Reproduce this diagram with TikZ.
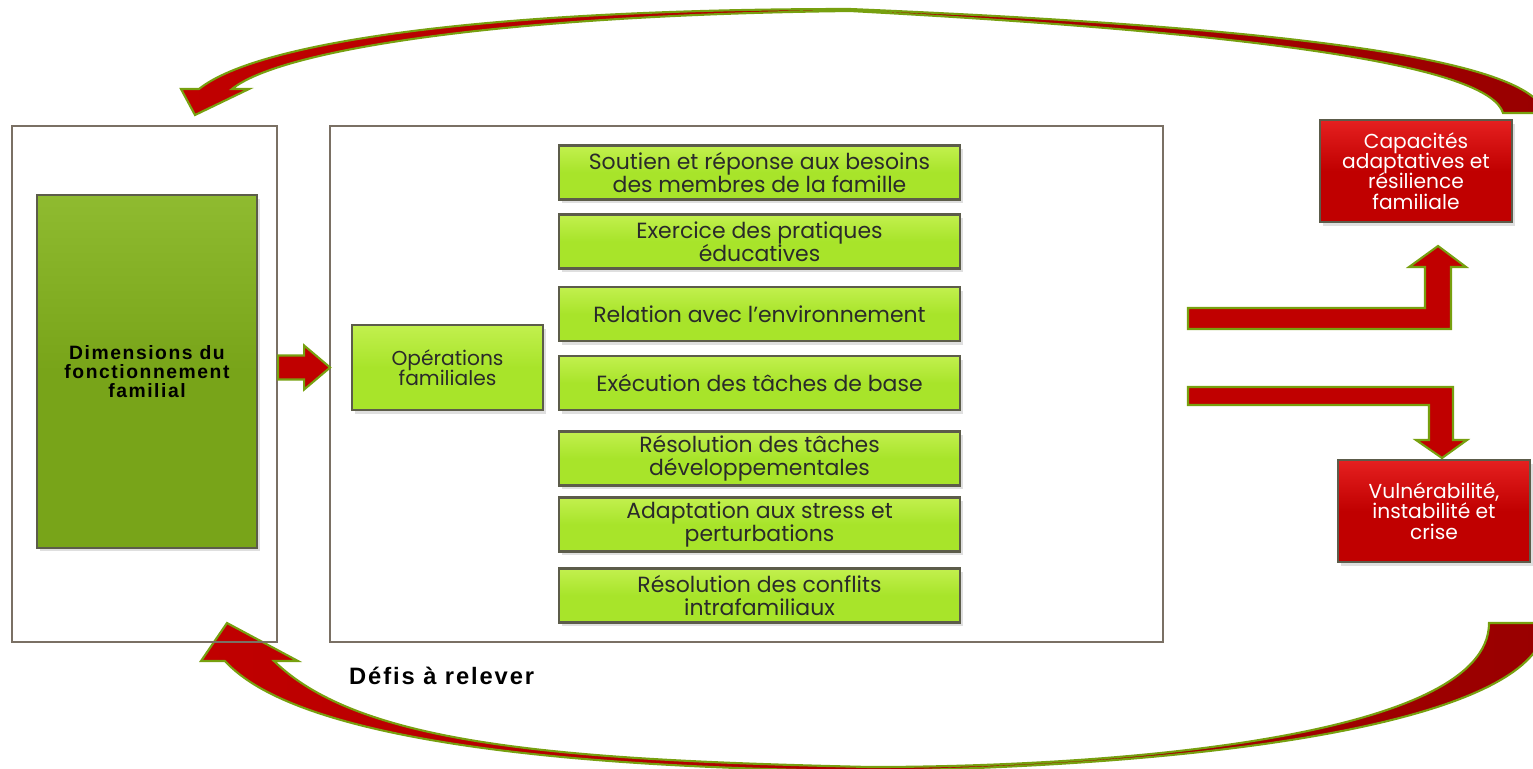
\documentclass[tikz,border=0pt]{standalone}
\usepackage{fontspec}
\setmainfont{Poppins}
\newfontfamily\headfont[LetterSpace=8]{Liberation Sans}
\usetikzlibrary{positioning,shadows}
\newcommand\tightlines{\lineskiplimit -20pt\relax}

\definecolor{framegray}{HTML}{7A7064}
\definecolor{limemain}{HTML}{A8E42A}
\definecolor{limetop}{HTML}{C2F04E}
\definecolor{olivemain}{HTML}{78A419}
\definecolor{olivetop}{HTML}{8FBB30}
\definecolor{boxedge}{HTML}{5C5C4A}
\definecolor{redmain}{HTML}{C00000}
\definecolor{redtop}{HTML}{E52020}
\definecolor{reddark}{HTML}{990000}
\definecolor{arrowedge}{HTML}{77A00F}
\definecolor{inktext}{HTML}{2A2A2A}

\tikzset{
      framebox/.style={
        draw=framegray,
        line width=1.3pt,
        minimum height=10.32cm,
        inner sep=0pt
      },
      opbox/.style={
        draw=boxedge,
        line width=1.4pt,
        top color=limetop,
        bottom color=limemain,
        middle color=limemain,
        minimum width=8.02cm,
        minimum height=1.08cm,
        inner sep=0pt,
        align=center,
        text=inktext,
        font={\fontsize{12.5}{12.8}\selectfont\tightlines},
        drop shadow={shadow xshift=1.5pt, shadow yshift=-2pt, opacity=0.25}
      },
      dimbox/.style={
        draw=boxedge,
        line width=1.4pt,
        top color=olivetop,
        bottom color=olivemain,
        middle color=olivemain,
        minimum width=4.4cm,
        minimum height=7.06cm,
        inner sep=0pt,
        align=center,
        font={\headfont\bfseries\fontsize{11}{11}\selectfont},
        drop shadow={shadow xshift=1.5pt, shadow yshift=-2pt, opacity=0.25}
      },
      outcomebox/.style={
        draw=boxedge,
        line width=1.4pt,
        top color=redtop,
        bottom color=redmain,
        middle color=redmain,
        minimum width=3.84cm,
        minimum height=2.04cm,
        inner sep=0pt,
        align=center,
        text=white,
        font={\fontsize{11.5}{11.5}\selectfont\tightlines},
        drop shadow={shadow xshift=1.5pt, shadow yshift=-2pt, opacity=0.25}
      },
      blockarrow/.style={
        draw=arrowedge,
        line width=1.2pt,
        fill=redmain,
        line join=miter
      },
      curvearrow/.style={
        draw=arrowedge,
        line width=1.2pt,
        left color=redmain,
        right color=reddark,
        line join=miter
      }
    }

\begin{document}
\begin{tikzpicture}[x=0.02cm,y=-0.02cm]
    \useasboundingbox (0,0) rectangle (1533,768);
    % return loops
    \draw[curvearrow] (1503,113) .. controls (1490,70) and (1300,35) .. (850,11)
      .. controls (500,15) and (280,50) .. (232,89)
      -- (249,89) -- (195,115) -- (181,89) -- (199,89)
      .. controls (260,40) and (500,9) .. (850,9)
      .. controls (1300,28) and (1530,60) .. (1545,113) -- cycle;
    \draw[curvearrow] (1489,623) .. controls (1489,740) and (1100,767) .. (870,767)
      .. controls (560,760) and (360,745) .. (274,661)
      -- (298,661) -- (227,623) -- (201,661) -- (225,661)
      .. controls (295,738) and (550,768) .. (870,771)
      .. controls (1280,764) and (1545,710) .. (1545,623) -- cycle;

    \node[framebox, minimum width=5.3cm] (leftframe) at (144.5,384) {};
    \node[framebox, minimum width=16.66cm] (midframe) at (746.5,384) {};

    \node[dimbox] (dims) at (147,371.5) {Dimensions du\\fonctionnement\\familial};
    \node[opbox, minimum width=3.82cm, minimum height=1.7cm, font={\fontsize{11.5}{11.5}\selectfont\tightlines}] (ops) at (447.5,367.5) {Opérations\\familiales};

    \node[opbox] (support) at (759.5,172.5) {Soutien et réponse aux besoins\\des membres de la famille};
    \node[opbox] (educ) at (759.5,241.5) {Exercice des pratiques\\éducatives};
    \node[opbox] (envir) at (759.5,314) {Relation avec l’environnement};
    \node[opbox] (basic) at (759.5,383) {Exécution des tâches de base};
    \node[opbox] (devel) at (759.5,458.5) {Résolution des tâches\\développementales};
    \node[opbox] (stress) at (759.5,524.5) {Adaptation aux stress et\\perturbations};
    \node[opbox] (confl) at (759.5,595.5) {Résolution des conflits\\intrafamiliaux};

    \node[outcomebox] (capa) at (1416,171) {Capacités\\adaptatives et\\résilience\\familiale};
    \node[outcomebox] (vuln) at (1434,511) {Vulnérabilité,\\instabilité et\\crise};

    \node[anchor=west, font={\headfont\bfseries\fontsize{13.5}{13.5}\selectfont}] (defis) at (343,676) {Défis à relever};

    % block arrows
    \draw[blockarrow, shift={(leftframe.east |- ops.west)}] (0,-12) -- (26,-12) -- (26,-22) -- (52,0) -- (26,22) -- (26,12) -- (0,12) -- cycle;
    \draw[blockarrow] (1188,308) -- (1425,308) -- (1425,267) -- (1409,267) -- (1438,246)
      -- (1466,267) -- (1451,267) -- (1451,329) -- (1188,329) -- cycle;
    \draw[blockarrow] (1188,387) -- (1453,387) -- (1453,440) -- (1467,440) -- (1442,458)
      -- (1416,440) -- (1429,440) -- (1429,405) -- (1188,405) -- cycle;
    \end{tikzpicture}
\end{document}
